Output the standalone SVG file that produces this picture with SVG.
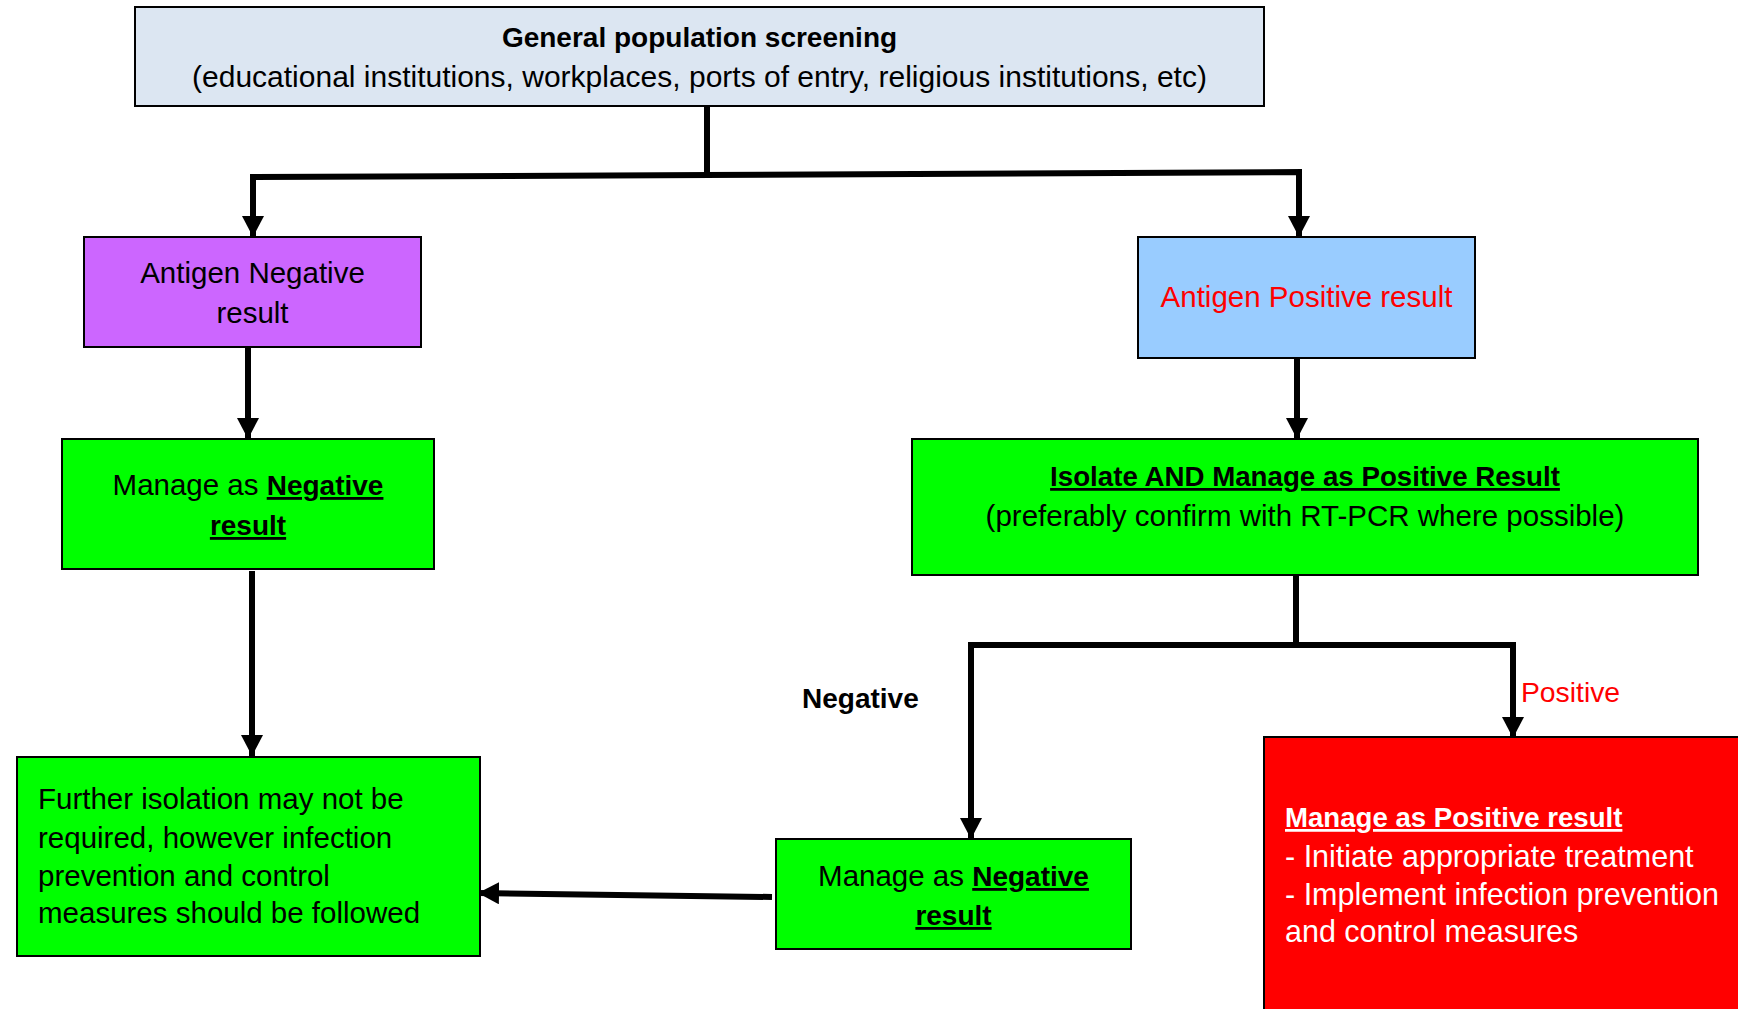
<svg xmlns="http://www.w3.org/2000/svg" width="1738" height="1009" viewBox="0 0 1738 1009">
<style>
.box{stroke:#000;stroke-width:2}
.t{font-family:"Liberation Sans",Arial,sans-serif;font-size:29.5px;fill:#000}
.c{text-anchor:middle}
.b{font-weight:bold;font-size:28px}
.u{text-decoration:underline}
.red{fill:#FF0000}
.w{fill:#FFFFFF}
.con{fill:none;stroke:#000;stroke-width:6}
</style>
<defs>
<marker id="ah" markerUnits="userSpaceOnUse" markerWidth="22" markerHeight="22" refX="21" refY="11" orient="auto">
<path d="M0,0 L21,11 L0,22 Z" fill="#000"/>
</marker>
</defs>
<rect width="1738" height="1009" fill="#fff"/>
<g id="connectors">
<path class="con" d="M707,106 L707,175"/>
<path class="con" d="M710,175 L253,177 L253,237" marker-end="url(#ah)"/>
<path class="con" d="M704,175 L1299,172 L1299,237" marker-end="url(#ah)"/>
<path class="con" d="M248,348 L248,439" marker-end="url(#ah)"/>
<path class="con" d="M252,571 L252,756" marker-end="url(#ah)"/>
<path class="con" d="M1297,358 L1297,439" marker-end="url(#ah)"/>
<path class="con" d="M1296,575 L1296,645"/>
<path class="con" d="M968,645 L1516,645"/>
<path class="con" d="M971,643 L971,839" marker-end="url(#ah)"/>
<path class="con" d="M1513,643 L1513,738" marker-end="url(#ah)"/>
<path class="con" d="M772,897 L478,893" marker-end="url(#ah)"/>
<text class="t b" x="802" y="708">Negative</text>
<text class="t red" x="1521" y="702" style="font-size:28.3px">Positive</text>
</g>
<g id="screening">
<rect class="box" x="135" y="7" width="1129" height="99" fill="#DCE6F2"/>
<text class="t c b" x="699.5" y="47">General population screening</text>
<text class="t c" x="699.5" y="87" style="font-size:30px">(educational institutions, workplaces, ports of entry, religious institutions, etc)</text>
</g>
<g id="antigen-negative">
<rect class="box" x="84" y="237" width="337" height="110" fill="#CC66FF"/>
<text class="t c" x="252.5" y="283">Antigen Negative</text>
<text class="t c" x="252.5" y="323">result</text>
</g>
<g id="antigen-positive">
<rect class="box" x="1138" y="237" width="337" height="121" fill="#99CCFF"/>
<text class="t c red" x="1306.5" y="307">Antigen Positive result</text>
</g>
<g id="manage-negative-left">
<rect class="box" x="62" y="439" width="372" height="130" fill="#00FF00"/>
<text class="t c" x="248" y="495">Manage as <tspan class="b u">Negative</tspan></text>
<text class="t c b u" x="248" y="535">result</text>
</g>
<g id="isolate">
<rect class="box" x="912" y="439" width="786" height="136" fill="#00FF00"/>
<text class="t c b u" x="1305" y="486" style="font-size:27.7px">Isolate AND Manage as Positive Result</text>
<text class="t c" x="1305" y="526">(preferably confirm with RT-PCR where possible)</text>
</g>
<g id="further">
<rect class="box" x="17" y="757" width="463" height="199" fill="#00FF00"/>
<text class="t" x="38" y="809">Further isolation may not be</text>
<text class="t" x="38" y="848">required, however infection</text>
<text class="t" x="38" y="886">prevention and control</text>
<text class="t" x="38" y="923">measures should be followed</text>
</g>
<g id="manage-negative-bottom">
<rect class="box" x="776" y="839" width="355" height="110" fill="#00FF00"/>
<text class="t c" x="953.5" y="886">Manage as <tspan class="b u">Negative</tspan></text>
<text class="t c b u" x="953.5" y="925">result</text>
</g>
<g id="manage-positive">
<rect class="box" x="1264" y="737" width="490" height="290" fill="#FF0000"/>
<text class="t b u w" x="1285" y="827" style="font-size:27.6px">Manage as Positive result</text>
<text class="t w" x="1285" y="867" style="font-size:30.5px">- Initiate appropriate treatment</text>
<text class="t w" x="1285" y="905" style="font-size:30.5px">- Implement infection prevention</text>
<text class="t w" x="1285" y="942" style="font-size:30.5px">and control measures</text>
</g>
</svg>
